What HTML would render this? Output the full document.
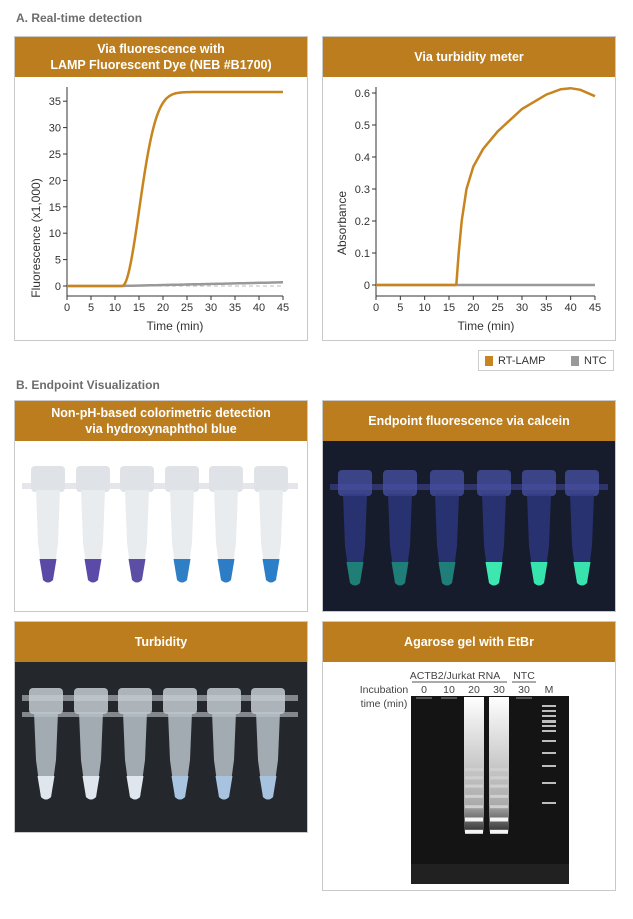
<!DOCTYPE html>
<html><head><meta charset="utf-8">
<style>
body{margin:0;width:633px;height:919px;background:#fff;font-family:"Liberation Sans",sans-serif;position:relative;overflow:hidden}
.t{position:absolute;font-weight:bold;color:#6d6d6d;font-size:12px}
.p{position:absolute;border:1px solid #c9c9c9;box-sizing:border-box;background:#fff}
.h{background:#bb7d1d;color:#fff;font-weight:bold;font-size:12.5px;text-align:center;display:flex;align-items:center;justify-content:center;line-height:16px}
svg{position:absolute;left:0;top:0}
</style></head><body>
<div class="t" style="left:16px;top:11px">A. Real-time detection</div>
<div class="p" style="left:14px;top:36px;width:294px;height:305px"><div class="h" style="height:40px">Via fluorescence with<br>LAMP Fluorescent Dye (NEB #B1700)</div></div>
<div class="p" style="left:322px;top:36px;width:294px;height:305px"><div class="h" style="height:40px">Via turbidity meter</div></div>

<svg width="633" height="919" id="ch" font-family="Liberation Sans" font-size="11" fill="#333">
<g stroke="#333" stroke-width="1">
<line x1="67" y1="87" x2="67" y2="296"/><line x1="67" y1="296" x2="283" y2="296"/>
<line x1="376" y1="87" x2="376" y2="296"/><line x1="376" y1="296" x2="595" y2="296"/>
</g>
<g id="ticks"></g>
<line x1="67" y1="286" x2="283" y2="286" stroke="#bbb" stroke-dasharray="4,3"/>
<path id="ntc1" fill="none" stroke="#999" stroke-width="2.5"/>
<path id="f1" fill="none" stroke="#c8841e" stroke-width="2.5"/>
<line x1="376" y1="285" x2="595" y2="285" stroke="#999" stroke-width="2.5"/>
<path id="f2" fill="none" stroke="#c8841e" stroke-width="2.5"/>
<text x="175" y="330" text-anchor="middle" font-size="12">Time (min)</text>
<text x="486" y="330" text-anchor="middle" font-size="12">Time (min)</text>
<text transform="translate(40,238) rotate(-90)" text-anchor="middle" font-size="12">Fluorescence (x1,000)</text>
<text transform="translate(346,223) rotate(-90)" text-anchor="middle" font-size="12">Absorbance</text>
</svg>

<div style="position:absolute;left:478px;top:350px;width:136px;height:21px;border:1px solid #ccc;box-sizing:border-box;font-size:11px;color:#333">
<span style="position:absolute;left:6px;top:5px;width:8px;height:10px;background:#c8841e"></span><span style="position:absolute;left:19px;top:4px">RT-LAMP</span>
<span style="position:absolute;left:92px;top:5px;width:8px;height:10px;background:#999"></span><span style="position:absolute;left:105px;top:4px">NTC</span></div>

<div class="t" style="left:16px;top:378px">B. Endpoint Visualization</div>
<div class="p" style="left:14px;top:400px;width:294px;height:212px"><div class="h" style="height:40px">Non-pH-based colorimetric detection<br>via hydroxynaphthol blue</div></div>
<div class="p" style="left:322px;top:400px;width:294px;height:212px;background:#161c2b"><div class="h" style="height:40px">Endpoint fluorescence via calcein</div></div>
<div class="p" style="left:14px;top:621px;width:294px;height:212px;background:#24282c"><div class="h" style="height:40px">Turbidity</div></div>
<div class="p" style="left:322px;top:621px;width:294px;height:270px"><div class="h" style="height:40px">Agarose gel with EtBr</div></div>

<svg width="633" height="919" id="pics" font-family="Liberation Sans" font-size="10.5" fill="#444">
<defs>
<linearGradient id="gl" x1="0" x2="0" y1="0" y2="1"><stop offset="0" stop-color="#fff"/><stop offset=".15" stop-color="#eee"/><stop offset=".8" stop-color="#aaa"/><stop offset="1" stop-color="#333"/></linearGradient>
</defs>
<g id="tubes"></g>
<rect x="411" y="696" width="158" height="188" fill="#141414"/>
<g id="gel"></g>
<text x="455" y="679" text-anchor="middle">ACTB2/Jurkat RNA</text>
<line x1="412" y1="682" x2="507" y2="682" stroke="#555"/>
<text x="524" y="679" text-anchor="middle">NTC</text>
<line x1="512" y1="682" x2="536" y2="682" stroke="#555"/>
<text x="384" y="693" text-anchor="middle">Incubation</text>
<text x="384" y="707" text-anchor="middle">time (min)</text>
<text x="424" y="693" text-anchor="middle">0</text><text x="449" y="693" text-anchor="middle">10</text>
<text x="474" y="693" text-anchor="middle">20</text><text x="499" y="693" text-anchor="middle">30</text>
<text x="524" y="693" text-anchor="middle">30</text><text x="549" y="693" text-anchor="middle">M</text>
</svg>
<script>
var ns="http://www.w3.org/2000/svg";
function el(p,t,a){var e=document.createElementNS(ns,t);for(var k in a)e.setAttribute(k,a[k]);p.appendChild(e);return e;}
var tk=document.getElementById('ticks');
for(var i=0;i<=9;i++){var x=67+i*24;el(tk,'line',{x1:x,y1:296,x2:x,y2:300,stroke:'#333'});el(tk,'text',{x:x,y:311,'text-anchor':'middle'}).textContent=i*5;
var x2=376+i*24.33;el(tk,'line',{x1:x2,y1:296,x2:x2,y2:300,stroke:'#333'});el(tk,'text',{x:x2,y:311,'text-anchor':'middle'}).textContent=i*5;}
for(var j=0;j<=7;j++){var y=286-j*26.4;el(tk,'line',{x1:63,y1:y,x2:67,y2:y,stroke:'#333'});el(tk,'text',{x:61,y:y+4,'text-anchor':'end'}).textContent=j*5;}
for(var j=0;j<=6;j++){var y=285-j*32;el(tk,'line',{x1:372,y1:y,x2:376,y2:y,stroke:'#333'});el(tk,'text',{x:370,y:y+4,'text-anchor':'end'}).textContent=j==0?'0':(j/10).toFixed(1);}
var d='',n='';
for(var t=0;t<=45;t+=0.25){var v=t<11.5?0:36.7*(1-Math.exp(-Math.pow((t-11.5)/5,2)));d+=(t?'L':'M')+(67+t*4.8).toFixed(1)+','+(286-v*5.286).toFixed(1);
var nv=t<11?0:(t-11)/34*0.7;n+=(t?'L':'M')+(67+t*4.8).toFixed(1)+','+(286-nv*5.286).toFixed(1);}
document.getElementById('f1').setAttribute('d',d);document.getElementById('ntc1').setAttribute('d',n);
var pts=[[16.5,0],[17,.1],[17.6,.2],[18.6,.3],[20,.37],[22,.425],[25,.48],[30,.55],[35,.595],[38,.612],[40,.615],[42,.61],[45,.59]];
var s='M376,285L'+(376+16.5*4.867)+',285';
pts.forEach(function(p){s+='L'+(376+p[0]*4.867).toFixed(1)+','+(285-p[1]*320).toFixed(1);});
document.getElementById('f2').setAttribute('d',s);
var g=document.getElementById('tubes');
function tube(cx,top,bot,body,liq,cap,op){
 el(g,'rect',{x:cx-17,y:top,width:34,height:26,rx:4,fill:cap,opacity:op});
 el(g,'path',{d:'M'+(cx-12)+','+(top+24)+'L'+(cx+12)+','+(top+24)+'L'+(cx+10)+','+(bot-40)+'L'+(cx+5)+','+(bot-3)+'Q'+cx+','+(bot+2)+' '+(cx-5)+','+(bot-3)+'L'+(cx-10)+','+(bot-40)+'Z',fill:body,opacity:op});
 el(g,'path',{d:'M'+(cx-8.5)+','+(bot-24)+'L'+(cx+8.5)+','+(bot-24)+'L'+(cx+5)+','+(bot-3)+'Q'+cx+','+(bot+2)+' '+(cx-5)+','+(bot-3)+'Z',fill:liq});
}
var c1=[48,93,137,182,226,271];var lq1=['#5a4aa5','#5b4aa8','#5d4ea5','#2f7fc4','#2d7cc6','#2a7fc8'];
el(g,'rect',{x:22,y:483,width:276,height:6,fill:'#e4e6ea'});
c1.forEach(function(c,i){tube(c,466,583,'#e9ecef',lq1[i],'#dfe3e8',1);});
var c2=[355,400,447,494,539,582];var lq2=['#1f7f76','#1f7f78','#1f7f78','#3de8b0','#38e4ad','#38e3ad'];
el(g,'rect',{x:330,y:484,width:278,height:6,fill:'#3b3f86',opacity:.7});
c2.forEach(function(c,i){tube(c,470,586,'#2f3a8a',lq2[i],'#4a52a8',.75);});
var c3=[46,91,135,180,224,268];var lq3=['#dfe6ee','#dfe6ee','#dfe6ee','#a9c4e0','#a8c3e0','#a7c2df'];
el(g,'rect',{x:22,y:695,width:276,height:6,fill:'#9aa0a6',opacity:.8});el(g,'rect',{x:22,y:712,width:276,height:5,fill:'#9aa0a6',opacity:.8});
c3.forEach(function(c,i){tube(c,688,800,'#b9c2c9',lq3[i],'#c5ccd2',.85);});
var gg=document.getElementById('gel');
[474,499].forEach(function(x){el(gg,'rect',{x:x-10,y:697,width:20,height:135,fill:'url(#gl)'});
[768,776,784,794,804,816,828].forEach(function(y,k){el(gg,'rect',{x:x-9,y:y+k*0.3,width:18,height:k>4?4:3,fill:k>4?'#f4f4f4':'#cfcfcf'});});});
[705,710,715,720,725,730,740,752,765,782,802].forEach(function(y,k){el(gg,'rect',{x:542,y:y,width:14,height:k==3?3:2,fill:'#bdbdbd'});});
[424,449,524].forEach(function(x){el(gg,'rect',{x:x-8,y:697,width:16,height:2,fill:'#555'});});
el(gg,'rect',{x:411,y:864,width:158,height:20,fill:'#262626',opacity:.7});
</script>
</body></html>
